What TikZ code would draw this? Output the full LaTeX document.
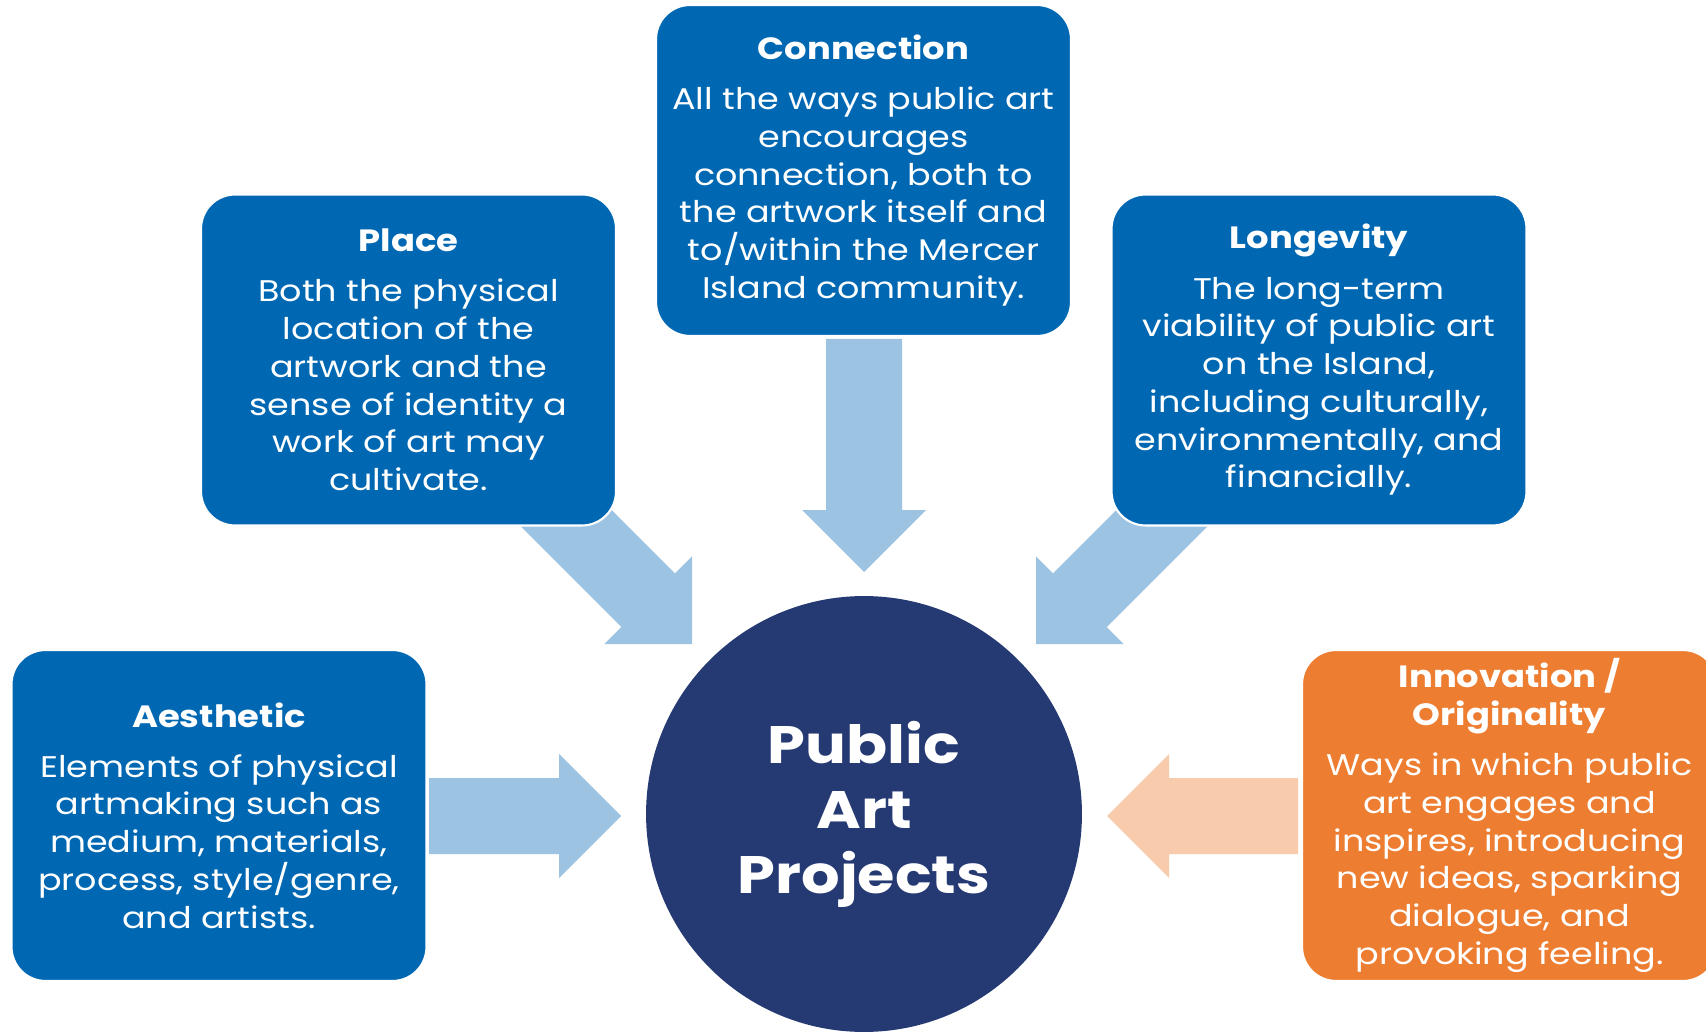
\documentclass[tikz,border=0pt]{standalone}
\usepackage{fontspec}
\setmainfont{Poppins}[FakeStretch=1.17, BoldFeatures={FakeStretch=1.15}]
\usetikzlibrary{positioning}
\definecolor{boxblue}{RGB}{0,104,179}
\definecolor{arrowblue}{RGB}{157,195,226}
\definecolor{navy}{RGB}{37,57,115}
\definecolor{boxorange}{RGB}{237,125,49}
\definecolor{arroworange}{RGB}{248,203,173}
\tikzset{pics/bigarrow/.style={code={
  \fill (0,0) -- (-62,62) -- (-62,38) -- (-#1,38) -- (-#1,-38) -- (-62,-38) -- (-62,-62) -- cycle;}}}
\newcommand{\heading}[1]{{\fontsize{17.5}{21.5}\selectfont\bfseries #1}}

\begin{document}
\begin{tikzpicture}[
  x=0.02cm, y=-0.02cm,
  every node/.style={align=center, text=white},
  theme/.style={draw=white, line width=1.2pt, rounded corners=0.68cm,
    minimum width=8.3cm, minimum height=6.62cm, inner sep=0pt,
    fill=boxblue, font=\fontsize{17}{21.5}\selectfont},
  accent/.style={theme, fill=boxorange},
  hub/.style={circle, fill=navy, minimum size=8.72cm, inner sep=0pt,
    font=\fontsize{30}{37}\selectfont\bfseries},
  to/.style={fill=arrowblue},
  from/.style={fill=arroworange}]

  \useasboundingbox (0,0) rectangle (1706,1033);

  % where the block arrows end
  \coordinate (tipConnection) at (864,572);
  \coordinate (tipPlace) at (692,644);
  \coordinate (tipLongevity) at (1036,644);
  \coordinate (tipAesthetic) at (621,816);
  \coordinate (tipInnovation) at (1107,816);

  % block arrows first, the boxes cover their tails
  \pic[to, rotate=-90] at (tipConnection) {bigarrow=233};
  \pic[to, rotate=-45] at (tipPlace) {bigarrow=215};
  \pic[to, rotate=-135] at (tipLongevity) {bigarrow=215};
  \pic[to] at (tipAesthetic) {bigarrow=192};
  \pic[from, rotate=180] at (tipInnovation) {bigarrow=191};

  \node[hub] (projects) at (864,814) {Public\\Art\\Projects};

  \node[theme] (connection) at (863.5,170.5) {\heading{Connection}\\[7pt]
    All the ways public art\\encourages\\connection, both to\\the artwork itself and\\to/within the Mercer\\Island community.};
  \node[theme] (place) at (408.5,360) {\heading{Place}\\[7pt]
    Both the physical\\location of the\\artwork and the\\sense of identity a\\work of art may\\cultivate.};
  \node[theme] (longevity) at (1319,360) {\heading{Longevity}\\[7pt]
    The long-term\\viability of public art\\on the Island,\\including culturally,\\environmentally, and\\financially.};
  \node[theme] (aesthetic) at (219,815.5) {\heading{Aesthetic}\\[7pt]
    Elements of physical\\artmaking such as\\medium, materials,\\process, style/genre,\\and artists.};
  \node[accent] (innovation) at (1509.5,815.5) {\heading{Innovation /}\\\heading{Originality}\\[7pt]
    Ways in which public\\art engages and\\inspires, introducing\\new ideas, sparking\\dialogue, and\\provoking feeling.};
\end{tikzpicture}
\end{document}
